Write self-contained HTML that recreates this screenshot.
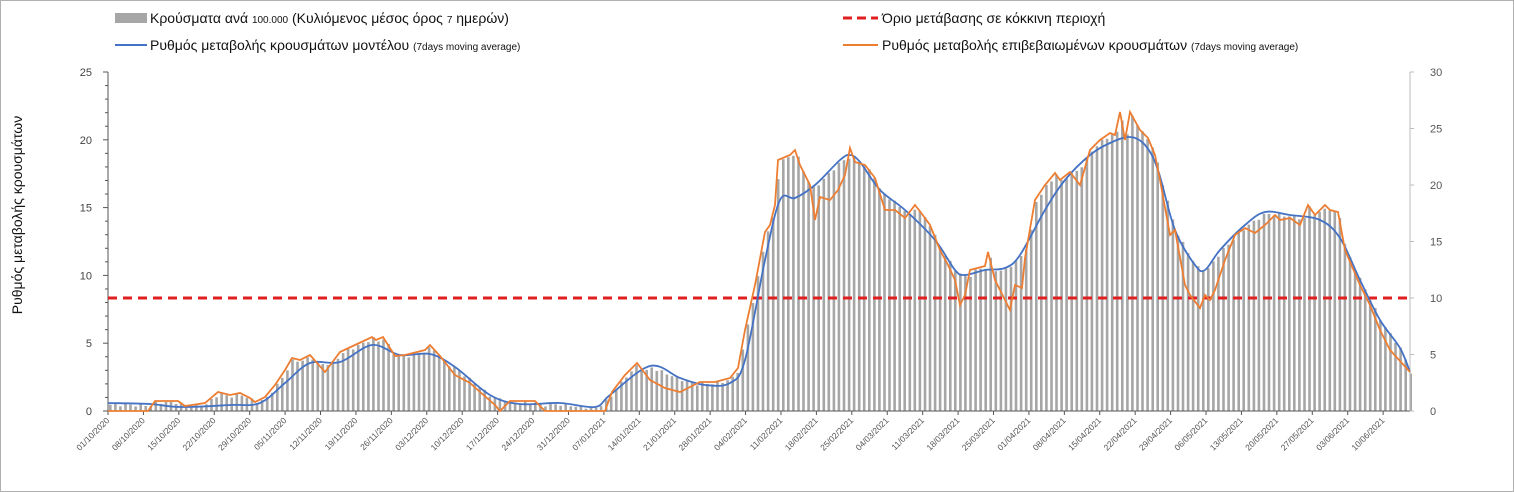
<!DOCTYPE html>
<html><head><meta charset="utf-8"><style>
body{margin:0;background:#fff}
svg{display:block;font-family:"Liberation Sans",sans-serif}
</style></head><body>
<svg id="s" width="1514" height="492" xmlns="http://www.w3.org/2000/svg">
<rect x="0.5" y="0.5" width="1513" height="491" fill="#fff" stroke="#b0b0b0"/>
<rect x="115" y="13" width="32" height="10" fill="#a6a6a6"/>
<text x="150" y="23" font-size="14" fill="#111">Κρούσματα ανά <tspan font-size="10">100.000</tspan> (Κυλιόμενος μέσος όρος <tspan font-size="10">7</tspan> ημερών)</text>
<line x1="115" y1="45" x2="147" y2="45" stroke="#4472c4" stroke-width="2"/>
<text x="150" y="50" font-size="14" fill="#111">Ρυθμός μεταβολής κρουσμάτων μοντέλου <tspan font-size="10">(7days moving average)</tspan></text>
<line x1="843" y1="18" x2="878" y2="18" stroke="#e02020" stroke-width="3" stroke-dasharray="9,5"/>
<text x="882" y="23" font-size="14" fill="#111">Όριο μετάβασης σε κόκκινη περιοχή</text>
<line x1="843" y1="45" x2="878" y2="45" stroke="#ed7d31" stroke-width="2"/>
<text x="882" y="50" font-size="14" fill="#111">Ρυθμός μεταβολής επιβεβαιωμένων κρουσμάτων <tspan font-size="10">(7days moving average)</tspan></text>
<text transform="translate(22,215) rotate(-90)" text-anchor="middle" font-size="14" fill="#111">Ρυθμός μεταβολής κρουσμάτων</text>
<g id="g"></g>
</svg>
<script>
const ns="http://www.w3.org/2000/svg",g=document.getElementById('g');
function el(t,a,txt){const e=document.createElementNS(ns,t);for(const k in a)e.setAttribute(k,a[k]);if(txt!=null)e.textContent=txt;g.appendChild(e);return e;}
const X0=108,X1=1410,Y0=411,YT=72,dx=5.06;
const O=[[108,411],[148,411],[155,401],[178,401],[185,406],[205,403],[218,392],[230,395],[240,393],[250,398],[255,402],[265,397],[275,385],[285,370],[292,358],[300,360],[310,355],[325,372],[340,352],[355,345],[372,337],[376,340],[383,337],[395,356],[405,355],[425,350],[430,345],[440,356],[455,375],[470,383],[480,392],[495,405],[500,411],[510,401],[535,401],[545,411],[605,411],[612,392],[625,375],[637,363],[650,380],[665,388],[680,392],[700,382],[715,382],[730,378],[738,368],[745,330],[755,285],[765,232],[770,225],[775,205],[778,160],[790,155],[795,150],[800,165],[810,185],[815,220],[820,197],[830,200],[838,190],[845,175],[850,148],[855,162],[865,165],[875,178],[885,210],[895,210],[905,218],[915,205],[922,214],[930,225],[940,250],[948,265],[955,280],[960,305],[965,295],[970,270],[985,266],[988,252],[995,280],[1010,310],[1015,285],[1022,288],[1025,258],[1035,200],[1045,185],[1055,173],[1060,180],[1070,172],[1080,185],[1090,150],[1100,140],[1110,133],[1115,135],[1120,112],[1125,140],[1130,112],[1140,130],[1148,138],[1155,155],[1160,180],[1170,235],[1175,230],[1185,285],[1190,295],[1200,308],[1205,295],[1210,300],[1215,290],[1225,260],[1235,235],[1245,228],[1255,233],[1265,225],[1275,215],[1280,220],[1290,218],[1300,225],[1308,205],[1315,215],[1325,205],[1330,210],[1338,212],[1345,250],[1360,285],[1370,305],[1380,330],[1390,350],[1410,372]];
const B=[[108,403],[150,404],[180,407],[230,405],[260,403],[285,383],[310,363],[340,362],[372,345],[400,355],[430,354],[455,367],[490,395],[520,404],[560,403],[595,407],[610,395],[650,366],[680,378],[705,385],[730,383],[745,360],[765,260],[780,200],[795,198],[815,185],[840,160],[850,155],[860,162],[880,190],[905,210],[935,240],[955,270],[965,275],[985,270],[1005,268],[1020,255],[1045,210],[1065,180],[1090,155],[1110,143],[1130,137],[1145,145],[1158,170],[1175,230],[1195,265],[1205,270],[1220,250],[1245,225],[1265,212],[1290,215],[1320,220],[1340,238],[1360,280],[1380,320],[1400,348],[1410,372]];
function interp(P,x){for(let i=1;i<P.length;i++)if(x<=P[i][0]){const a=P[i-1],b=P[i];return a[1]+(b[1]-a[1])*(x-a[0])/(b[0]-a[0]);}return P[P.length-1][1];}
function smooth(P){let d='M'+P[0].join(',');for(let i=0;i<P.length-1;i++){const p0=P[i-1]||P[i],p1=P[i],p2=P[i+1],p3=P[i+2]||p2;const c1=[p1[0]+(p2[0]-p0[0])/6,p1[1]+(p2[1]-p0[1])/6],c2=[p2[0]-(p3[0]-p1[0])/6,p2[1]-(p3[1]-p1[1])/6];d+=` C${c1[0].toFixed(1)},${c1[1].toFixed(1)} ${c2[0].toFixed(1)},${c2[1].toFixed(1)} ${p2[0]},${p2[1]}`;}return d;}
for(let x=X0+1;x<X1;x+=dx){let y=Math.min(interp(O,x),interp(B,x))+((Math.sin(x*1.7)+1)*1.5);if(y>409)continue;el('rect',{x:x.toFixed(1),y:y.toFixed(1),width:2.6,height:(Y0-y).toFixed(1),fill:'#a6a6a6'});}
el('line',{x1:X0,y1:YT,x2:X0,y2:Y0,stroke:'#555'});
el('line',{x1:X0,y1:Y0,x2:X1,y2:Y0,stroke:'#555'});
el('line',{x1:X1,y1:YT,x2:X1,y2:Y0,stroke:'#bbb'});
for(let v=0;v<=25;v++){const y=Y0-(Y0-YT)*v/25;el('line',{x1:X0-(v%5?3:5),y1:y,x2:X0,y2:y,stroke:'#555'});if(v%5==0)el('text',{x:92,y:y+4,'font-size':11,'text-anchor':'end',fill:'#444'},v);}
for(let v=0;v<=30;v+=5){const y=Y0-(Y0-YT)*v/30;el('line',{x1:X1,y1:y,x2:X1+4,y2:y,stroke:'#bbb'});el('text',{x:1430,y:y+4,'font-size':11,fill:'#555'},v);}
const d0=new Date(2020,9,1);
for(let w=0;w<=36;w++){const x=X0+w*7*dx;const d=new Date(d0.getTime()+w*7*864e5+3600e3*12);const s=String(d.getDate()).padStart(2,'0')+'/'+String(d.getMonth()+1).padStart(2,'0')+'/'+d.getFullYear();
el('line',{x1:x,y1:Y0,x2:x,y2:Y0+4,stroke:'#555'});
el('text',{transform:`translate(${x+2},${Y0+10}) rotate(-45)`,'font-size':8.5,'text-anchor':'end',fill:'#555'},s);}
el('line',{x1:X0,y1:298,x2:X1,y2:298,stroke:'#e02020','stroke-width':3,'stroke-dasharray':'9,6'});
el('path',{d:smooth(B),fill:'none',stroke:'#4472c4','stroke-width':1.8});
el('polyline',{points:O.map(p=>p.join(',')).join(' '),fill:'none',stroke:'#ed7d31','stroke-width':1.8});
</script>
</body></html>
